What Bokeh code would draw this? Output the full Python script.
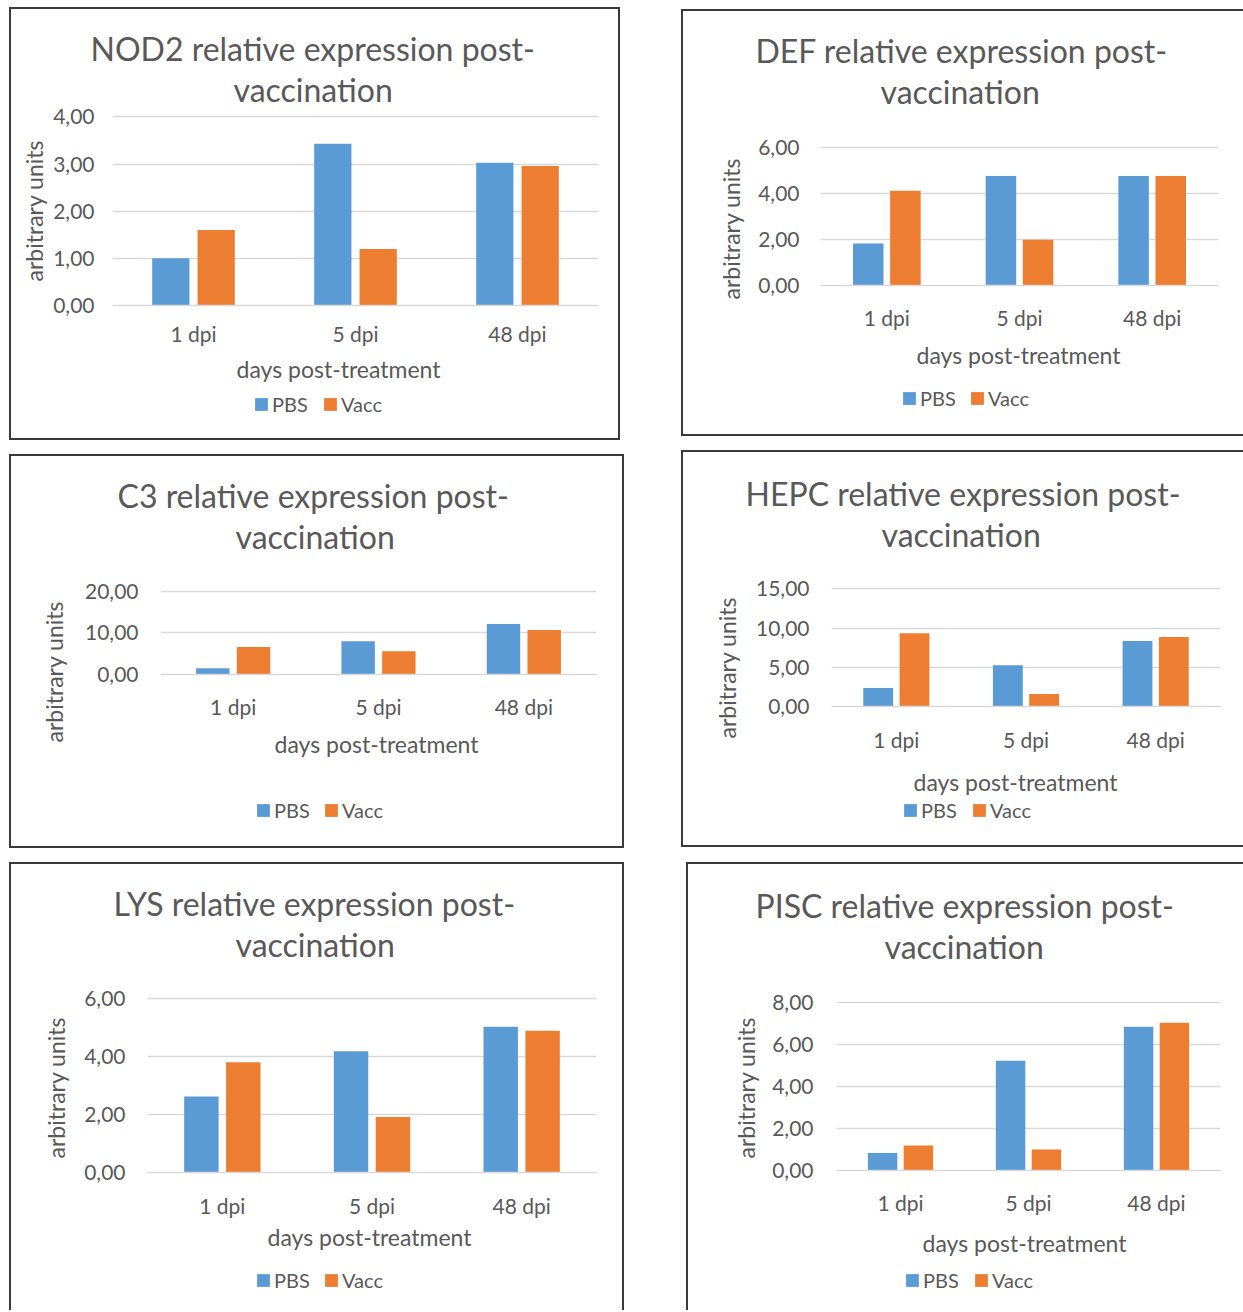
from bokeh.embed import file_html
from bokeh.models import (ColumnDataSource, CustomJSTickFormatter, FactorRange,
                          FixedTicker, Legend, LegendItem, Range1d, Title)
from bokeh.plotting import figure
from bokeh.resources import INLINE
from bokeh.transform import dodge

# ---- data -------------------------------------------------------------
days = ["1 dpi", "5 dpi", "48 dpi"]
groups = ["PBS", "Vacc"]

nod2_pbs = [1.00, 3.43, 3.03]
nod2_vacc = [1.60, 1.20, 2.96]

def_pbs = [1.83, 4.78, 4.78]
def_vacc = [4.13, 2.00, 4.78]

c3_pbs = [1.5, 8.0, 12.1]
c3_vacc = [6.6, 5.6, 10.7]

hepc_pbs = [2.35, 5.25, 8.35]
hepc_vacc = [9.35, 1.60, 8.85]

lys_pbs = [2.63, 4.19, 5.04]
lys_vacc = [3.81, 1.92, 4.90]

pisc_pbs = [0.84, 5.24, 6.86]
pisc_vacc = [1.19, 1.00, 7.05]

# ---- style ------------------------------------------------------------
FONT = "Lato"
TEXT = "#595959"
GRID = "#d9d9d9"
BLUE = "#5B9BD5"
ORANGE = "#ED7D31"
EDGE = "2px solid #3a3a3a"
BW = 2            # box edge width
GLYPH = 16        # legend swatch cell (drawn with a 10% inset)
STANDOFF = 3      # swatch-to-label gap
SLOT = 40         # legend label slot width
XTITLE_W = 207    # approx. width of "days post-treatment" at 23px
YTITLE_W = 141    # approx. width of "arbitrary units" at 23px


def title(text, size, **kw):
    return Title(text=text, text_font=FONT, text_font_size=size,
                 text_font_style="normal", text_color=TEXT, **kw)


def make_panel(gene, pbs, vacc, ymax, ystep, g):
    """A framed bar chart plus its legend strip, placed in page pixels."""
    bx, by = g["box"]
    sides = g["sides"]
    cx = bx + (BW if "left" in sides else 0)
    cy = by + (BW if "top" in sides else 0)
    cw, ch = g["size"]
    fl, fr, ft, fb = g["frame"]
    t1, t2 = g["title_left"]
    top = g["title_y"] + 17.5     # frame top sits just under the title
    yend = ymax * (fb - top) / (fb - ft)

    src = ColumnDataSource(dict(day=days, pbs=pbs, vacc=vacc))

    p = figure(
        x_range=FactorRange(*days), y_range=Range1d(0, yend),
        frame_width=fr - fl, frame_height=round(fb - top),
        output_backend="svg", toolbar_location=None,
        min_border_left=fl - cx, min_border_right=cx + cw - fr,
        min_border_top=round(top - cy), min_border_bottom=cy + ch - fb,
    )
    p.outline_line_color = None
    p.background_fill_color = "white"
    p.border_fill_color = "white"
    st = {"position": "absolute", "left": f"{bx}px", "top": f"{by}px",
          "box-sizing": "content-box"}
    for s in sides:
        st[f"border-{s}"] = EDGE
    p.styles = st

    p.vbar(x=dodge("day", -0.14, range=p.x_range), top="pbs", width=0.23,
           source=src, color=BLUE, line_color=None)
    p.vbar(x=dodge("day", 0.14, range=p.x_range), top="vacc", width=0.23,
           source=src, color=ORANGE, line_color=None)

    # grid and axes
    p.xgrid.grid_line_color = None
    p.ygrid.grid_line_color = GRID
    p.ygrid.grid_line_width = 1.5
    p.yaxis.ticker = FixedTicker(ticks=list(range(0, ymax + 1, ystep)))
    p.yaxis.formatter = CustomJSTickFormatter(
        code="return tick.toFixed(2).replace('.', ',');")
    for ax in (p.xaxis[0], p.yaxis[0]):
        ax.major_tick_line_color = None
        ax.minor_tick_line_color = None
        ax.major_label_text_font = FONT
        ax.major_label_text_font_size = "21px"
        ax.major_label_text_color = TEXT
    p.yaxis.axis_line_color = None
    p.xaxis.axis_line_color = GRID
    p.xaxis.axis_line_width = 1.5
    p.yaxis.major_label_standoff = g["ystand"]
    p.xaxis.major_label_standoff = g["xstand"]

    # two-line chart title; the first one added sits next to the frame
    p.add_layout(title("vaccination", "32px", align="left",
                       offset=t2 - fl, standoff=1), "above")
    p.add_layout(title(f"{gene} relative expression post-", "32px",
                       align="left", offset=t1 - fl, standoff=0), "above")

    # axis titles
    yc, ys = g["ytitle"]
    p.add_layout(title("arbitrary units", "23px", align="left",
                       offset=round(fb - yc - YTITLE_W / 2), standoff=ys), "left")
    xc, xs = g["xtitle"]
    p.add_layout(title("days post-treatment", "23px", align="left",
                       offset=round(xc - XTITLE_W / 2 - fl), standoff=xs), "below")

    # legend strip: a transparent overlay holding the series key
    sw_left, sw_y, sw_step = g["legend"]
    lw, lh = 150, 30
    k = figure(width=lw, height=lh, x_range=FactorRange(*days),
               y_range=Range1d(0, 1), x_axis_type=None, y_axis_type=None,
               min_border=0, output_backend="svg", toolbar_location=None)
    k.outline_line_color = None
    k.background_fill_alpha = 0
    k.border_fill_alpha = 0
    k.styles = {"position": "absolute", "left": f"{sw_left - 2}px",
                "top": f"{round(sw_y - lh / 2)}px"}
    k1 = k.vbar(x="day", top="pbs", width=0.23, source=src, color=BLUE,
                line_color=None, visible=False)
    k2 = k.vbar(x="day", top="vacc", width=0.23, source=src, color=ORANGE,
                line_color=None, visible=False)
    leg = Legend(items=[LegendItem(label=groups[0], renderers=[k1]),
                        LegendItem(label=groups[1], renderers=[k2])],
                 location="center_left", orientation="horizontal",
                 padding=0, margin=0, label_width=SLOT,
                 spacing=sw_step - GLYPH - STANDOFF - SLOT,
                 border_line_color=None, background_fill_alpha=0,
                 inactive_fill_alpha=0,
                 glyph_width=GLYPH, glyph_height=GLYPH,
                 label_standoff=STANDOFF, label_text_font=FONT,
                 label_text_font_size="20px", label_text_color=TEXT)
    k.add_layout(leg, "center")
    return [p, k]


# page geometry (pixels): outer box corner, canvas size, grid frame edges,
# title left edges and second-line centre, axis-title anchors + standoffs,
# legend swatch left edge, row centre and swatch step
g1 = dict(box=(9, 7), sides=("left", "top", "right", "bottom"), size=(607, 429),
          frame=(112, 598, 116, 305), title_left=(90, 233), title_y=91,
          ystand=12, xstand=9, ytitle=(211, 6), xtitle=(340, 8),
          legend=(255, 404, 69))
g2 = dict(box=(681, 9), sides=("left", "top", "bottom"), size=(560, 423),
          frame=(820, 1218, 147, 285), title_left=(755, 880), title_y=93,
          ystand=15, xstand=13, ytitle=(228, 22), xtitle=(1019, 12),
          legend=(903, 398, 68))
g3 = dict(box=(9, 454), sides=("left", "top", "right", "bottom"), size=(611, 390),
          frame=(160, 596, 591, 674), title_left=(117, 235), title_y=539,
          ystand=16, xstand=13, ytitle=(671, 30), xtitle=(378, 12),
          legend=(257, 810, 68))
g4 = dict(box=(681, 450), sides=("left", "top", "bottom"), size=(560, 394),
          frame=(831, 1220, 589, 707), title_left=(745, 881), title_y=537,
          ystand=16, xstand=14, ytitle=(668, 26), xtitle=(1017, 22),
          legend=(904, 810, 69))
g5 = dict(box=(9, 862), sides=("left", "top", "right"), size=(611, 446),
          frame=(147, 596, 998, 1172), title_left=(113, 235), title_y=946,
          ystand=16, xstand=14, ytitle=(1087, 24), xtitle=(370, 0),
          legend=(257, 1280, 68))
g6 = dict(box=(686, 862), sides=("left", "top"), size=(555, 446),
          frame=(836, 1220, 1002, 1170), title_left=(755, 884), title_y=948,
          ystand=17, xstand=13, ytitle=(1088, 20), xtitle=(1026, 18),
          legend=(906, 1280, 69))

roots = (
    make_panel("NOD2", nod2_pbs, nod2_vacc, 4, 1, g1)
    + make_panel("DEF", def_pbs, def_vacc, 6, 2, g2)
    + make_panel("C3", c3_pbs, c3_vacc, 20, 10, g3)
    + make_panel("HEPC", hepc_pbs, hepc_vacc, 15, 5, g4)
    + make_panel("LYS", lys_pbs, lys_vacc, 6, 2, g5)
    + make_panel("PISC", pisc_pbs, pisc_vacc, 8, 2, g6)
)

with open("out.html", "w") as f:
    f.write(file_html(roots, INLINE, title="relative expression post-vaccination"))
